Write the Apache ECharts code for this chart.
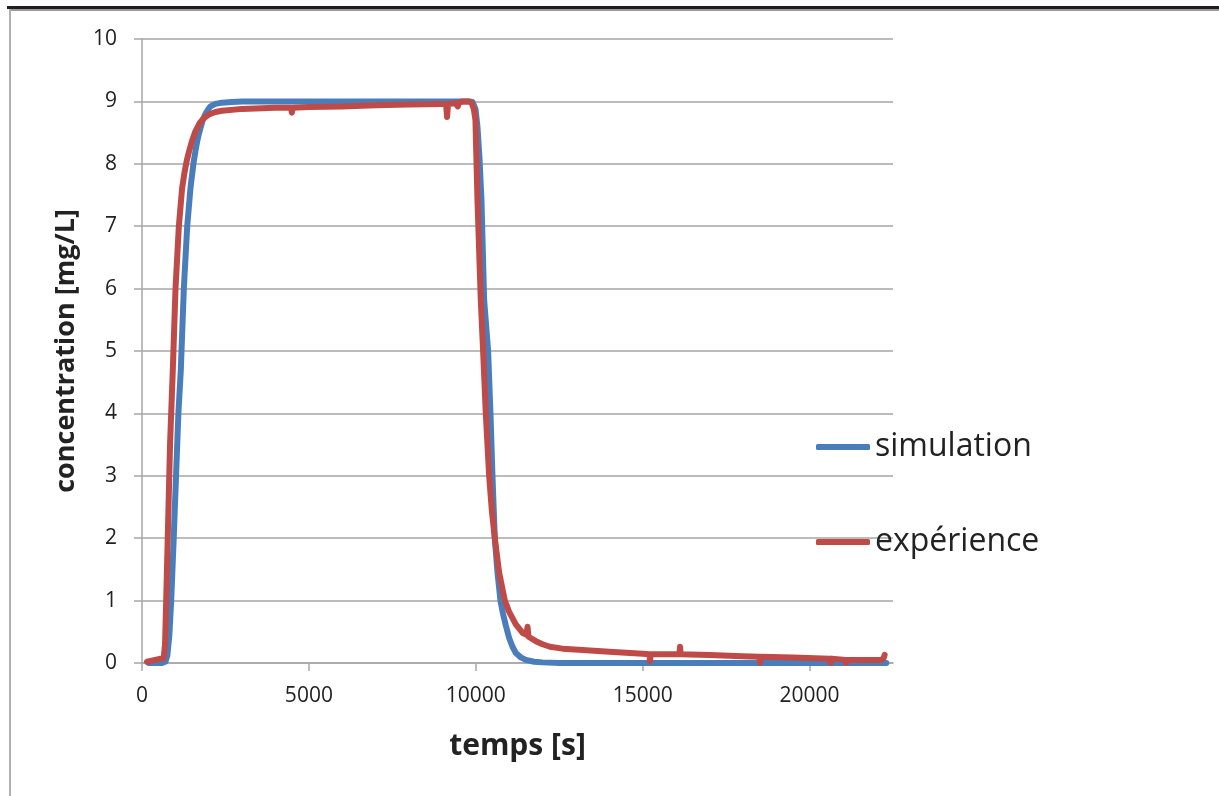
<!DOCTYPE html>
<html>
<head>
<meta charset="utf-8">
<script src="https://cdn.jsdelivr.net/npm/echarts@6/dist/echarts.min.js"></script>
<style>
  html, body { margin: 0; padding: 0; background: #fff; }
  #chart { width: 1219px; height: 796px; }
</style>
</head>
<body>
<div id="chart"></div>
<script>
// valeurs (temps en s, concentration en mg/L)
const simTime = [200, 600, 700, 760, 820, 875, 950, 1020, 1090, 1163, 1253, 1355, 1450, 1540, 1600, 1650, 1700, 1750, 1820, 1900, 1980, 2050, 2200, 2400, 2700, 3000,
  9800, 9900, 9950, 9990, 10050, 10110, 10170, 10250, 10370, 10440, 10500, 10570, 10650, 10740, 10820, 10900, 11000, 11100, 11200, 11350, 11500, 11750, 12000, 12500, 22300];
const simConc = [0, 0, 0.02, 0.12, 0.45, 1.0, 2.0, 3.0, 4.0, 4.7, 6.0, 7.0, 7.6, 8.0, 8.2, 8.35, 8.47, 8.57, 8.7, 8.8, 8.87, 8.92, 8.96, 8.98, 8.99, 9.0,
  9.0, 8.99, 8.96, 8.88, 8.6, 8.1, 7.43, 5.82, 5.0, 4.0, 3.0, 2.0, 1.45, 1.0, 0.78, 0.6, 0.4, 0.26, 0.16, 0.09, 0.05, 0.02, 0.01, 0, 0];

const expTime = [150, 400, 650, 690, 725, 780, 840, 923, 1004, 1104, 1200, 1270, 1340, 1420, 1500, 1600, 1724, 1850, 2000, 2200, 2400, 3000, 4000, 4460, 4490, 4520,
  5000, 6000, 7000, 8000, 9000, 9110, 9140, 9170, 9400, 9460, 9500, 9600, 9800, 9880, 9940, 9990, 10050, 10150, 10220, 10300, 10400,
  10480, 10570, 10700, 10870, 11000, 11200, 11410, 11520, 11550, 11580, 11800, 12000, 12220, 12600, 13200, 14000, 15000, 15200, 15220, 15240, 16000,
  16100, 16120, 16140, 17000, 18000, 18500, 18520, 18540, 19500, 20600, 20630, 20660, 21080, 21100, 21120, 22150, 22220, 22250];
const expConc = [0.02, 0.05, 0.08, 0.3, 1.0, 2.2, 3.5, 4.7, 6.0, 7.0, 7.6, 7.85, 8.05, 8.22, 8.37, 8.52, 8.65, 8.73, 8.79, 8.83, 8.85, 8.88, 8.9, 8.9, 8.82, 8.9,
  8.91, 8.92, 8.94, 8.95, 8.96, 8.95, 8.75, 8.96, 8.97, 8.92, 8.98, 9.0, 9.0, 8.97, 8.88, 8.7, 7.43, 5.82, 5.0, 4.0, 3.0,
  2.45, 2.0, 1.45, 1.0, 0.82, 0.62, 0.48, 0.45, 0.58, 0.42, 0.35, 0.3, 0.26, 0.23, 0.21, 0.18, 0.15, 0.14, 0.03, 0.14, 0.14,
  0.14, 0.26, 0.14, 0.13, 0.11, 0.1, 0.0, 0.1, 0.09, 0.07, 0.0, 0.07, 0.05, 0.0, 0.05, 0.05, 0.08, 0.13];

const xTicks = [0, 5000, 10000, 15000, 20000];
const seriesNames = ['simulation', 'expérience'];

const simData = simTime.map((t, i) => [t, simConc[i]]);
const expData = expTime.map((t, i) => [t, expConc[i]]);

const font = '"Open Sans", sans-serif';
const gridGrey = '#a6a6a6';

const myChart = echarts.init(document.getElementById('chart'));
myChart.setOption({
  animation: false,
  backgroundColor: '#fff',
  textStyle: { fontFamily: font },
  graphic: [
    // bordure de la page autour de la figure
    { type: 'rect', shape: { x: 7, y: 6, width: 1212, height: 3 }, style: { fill: '#231f20' } },
    { type: 'rect', shape: { x: 9, y: 9, width: 1210, height: 2 }, style: { fill: '#9a9a9a' } },
    { type: 'rect', shape: { x: 9, y: 9, width: 2, height: 787 }, style: { fill: '#b0b0b0' } }
  ],
  grid: { left: 142, top: 39, right: 326, bottom: 133, containLabel: false },
  legend: {
    orient: 'vertical',
    left: 816,
    top: 427,
    padding: 0,
    icon: 'roundRect',
    itemWidth: 54,
    itemHeight: 6,
    itemGap: 55,
    data: seriesNames,
    textStyle: { fontSize: 32, color: '#222', fontFamily: font, lineHeight: 40, padding: [0, 0, 0, 0] }
  },
  xAxis: {
    type: 'value',
    min: 0,
    max: 22500,
    interval: 5000,
    name: 'temps [s]',
    nameLocation: 'middle',
    nameGap: 68,
    nameTextStyle: { fontSize: 30, fontWeight: 'bold', color: '#222', fontFamily: font },
    axisLine: { show: true, lineStyle: { color: gridGrey, width: 1.5 } },
    axisTick: { show: true, length: 8, lineStyle: { color: gridGrey, width: 1.5 }, customValues: xTicks },
    axisLabel: { fontSize: 21, color: '#222', margin: 23, customValues: xTicks, fontFamily: font, formatter: (v) => String(v) },
    splitLine: { show: false }
  },
  yAxis: {
    type: 'value',
    min: 0,
    max: 10,
    interval: 1,
    name: 'concentration [mg/L]',
    nameLocation: 'middle',
    nameGap: 62,
    nameTextStyle: { fontSize: 27, fontWeight: 'bold', color: '#222', fontFamily: font },
    axisLine: { show: true, lineStyle: { color: gridGrey, width: 1.5 } },
    axisTick: { show: true, length: 8, lineStyle: { color: gridGrey, width: 1.5 } },
    axisLabel: { fontSize: 21, color: '#222', margin: 25, fontFamily: font },
    splitLine: { show: true, lineStyle: { color: gridGrey, width: 1.5 } }
  },
  series: [
    {
      name: seriesNames[0],
      type: 'line',
      data: simData,
      symbol: 'none',
      color: '#4a7ebb',
      lineStyle: { width: 6, color: '#4a7ebb', cap: 'round', join: 'round' },
      z: 2
    },
    {
      name: seriesNames[1],
      type: 'line',
      data: expData,
      symbol: 'none',
      color: '#be4b48',
      lineStyle: { width: 6, color: '#be4b48', cap: 'round', join: 'round' },
      z: 3
    }
  ]
});
</script>
</body>
</html>
